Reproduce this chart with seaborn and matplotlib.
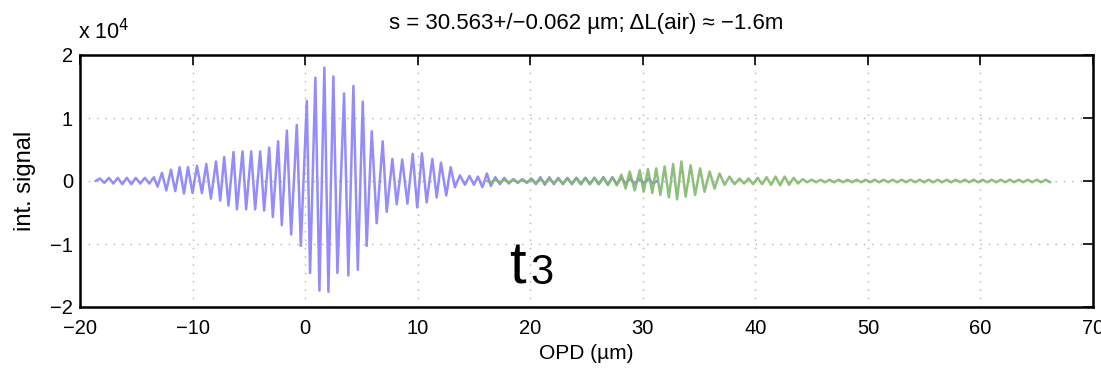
import numpy as np
import pandas as pd
import matplotlib
matplotlib.use("Agg")
import matplotlib.pyplot as plt
import seaborn as sns

# ---- data (signal in units of 1e4) ----
blue_opd = [
    -18.63, -18.23, -17.84, -17.44, -17.04, -16.64, -16.24, -15.84, -15.44, -15.04,
    -14.64, -14.24, -13.84, -13.44, -13.11, -12.72, -12.33, -11.92, -11.54, -11.15,
    -10.76, -10.41, -10.00, -9.61, -9.17, -8.78, -8.37, -7.92, -7.54, -7.19,
    -6.81, -6.36, -6.06, -5.56, -5.24, -4.79, -4.44, -3.99, -3.64, -3.19,
    -2.87, -2.40, -2.07, -1.62, -1.24, -0.74, -0.38, 0.15, 0.44, 0.91,
    1.27, 1.71, 2.07, 2.51, 2.87, 3.46, 3.84, 4.29, 4.68, 5.12,
    5.47, 5.92, 6.36, 6.89, 7.25, 7.75, 8.14, 8.63, 9.09, 9.56,
    9.96, 10.38, 10.80, 11.30, 11.69, 12.07, 12.54, 12.93, 13.31, 13.75,
    14.20, 14.60, 15.00, 15.35, 15.75, 16.15, 16.50, 16.90, 17.30, 17.70,
    18.10, 18.50, 18.90, 19.30, 19.70, 20.10, 20.50, 20.90, 21.30, 21.70,
    22.10, 22.50, 22.90, 23.30, 23.70, 24.10, 24.50, 24.90, 25.30, 25.70,
    26.10, 26.50, 26.90, 27.30, 27.70, 28.10, 28.50, 28.90, 29.30, 29.70,
    30.10, 30.50, 30.90, 31.30,
]
blue_sig = [
    0.00, 0.04, -0.03, 0.05, -0.04, 0.05, -0.05, 0.05, -0.05, 0.05,
    -0.04, 0.05, -0.04, 0.06, -0.09, 0.13, -0.15, 0.18, -0.16, 0.22,
    -0.20, 0.22, -0.19, 0.24, -0.19, 0.27, -0.28, 0.31, -0.31, 0.38,
    -0.39, 0.46, -0.45, 0.47, -0.45, 0.47, -0.45, 0.47, -0.47, 0.53,
    -0.57, 0.63, -0.70, 0.80, -0.85, 0.89, -1.03, 1.27, -1.46, 1.64,
    -1.74, 1.80, -1.76, 1.66, -1.46, 1.39, -1.50, 1.51, -1.41, 1.26,
    -1.03, 0.79, -0.67, 0.63, -0.49, 0.35, -0.37, 0.34, -0.36, 0.43,
    -0.42, 0.44, -0.34, 0.35, -0.26, 0.29, -0.23, 0.22, -0.10, 0.09,
    -0.06, 0.08, -0.06, 0.07, -0.10, 0.12, -0.08, 0.06, -0.05, 0.05,
    -0.04, 0.03, -0.03, 0.03, -0.03, 0.04, -0.05, 0.06, -0.06, 0.06,
    -0.05, 0.05, -0.05, 0.05, -0.05, 0.05, -0.05, 0.05, -0.05, 0.05,
    -0.05, 0.06, -0.06, 0.06, -0.05, 0.05, -0.04, 0.04, -0.04, 0.04,
    -0.04, 0.04, -0.04, 0.00,
]

green_opd = [
    16.15, 16.50, 16.90, 17.30, 17.70, 18.10, 18.50, 18.90, 19.30, 19.70,
    20.10, 20.50, 20.90, 21.30, 21.70, 22.10, 22.50, 22.90, 23.30, 23.70,
    24.10, 24.50, 24.90, 25.30, 25.70, 26.10, 26.50, 26.90, 27.30, 27.70,
    28.10, 28.48, 28.84, 29.28, 29.73, 30.08, 30.46, 30.85, 31.19, 31.56,
    31.94, 32.32, 32.70, 33.05, 33.43, 33.81, 34.25, 34.65, 35.09, 35.49,
    35.94, 36.38, 36.82, 37.27, 37.71, 38.15, 38.60, 39.00, 39.40, 39.80,
    40.20, 40.60, 41.00, 41.40, 41.80, 42.20, 42.60, 43.00, 43.40, 43.80,
    44.20, 44.60, 45.00, 45.40, 45.80, 46.20, 46.60, 47.00, 47.40, 47.80,
    48.20, 48.60, 49.00, 49.40, 49.80, 50.20, 50.60, 51.00, 51.40, 51.80,
    52.20, 52.60, 53.00, 53.40, 53.80, 54.20, 54.60, 55.00, 55.40, 55.80,
    56.20, 56.60, 57.00, 57.40, 57.80, 58.20, 58.60, 59.00, 59.40, 59.80,
    60.20, 60.60, 61.00, 61.40, 61.80, 62.20, 62.60, 63.00, 63.40, 63.80,
    64.20, 64.60, 65.00, 65.40, 65.80, 66.20,
]
green_sig = [
    0.00, -0.02, 0.02, -0.02, 0.02, -0.02, 0.02, -0.02, 0.02, -0.02,
    0.03, -0.03, 0.03, -0.03, 0.03, -0.03, 0.03, -0.04, 0.04, -0.04,
    0.05, -0.05, 0.05, -0.05, 0.05, -0.05, 0.06, -0.06, 0.06, -0.07,
    0.10, -0.12, 0.15, -0.15, 0.17, -0.17, 0.19, -0.19, 0.20, -0.22,
    0.23, -0.26, 0.27, -0.29, 0.31, -0.25, 0.25, -0.22, 0.20, -0.17,
    0.15, -0.12, 0.12, -0.06, 0.07, -0.05, 0.04, -0.04, 0.04, -0.05,
    0.05, -0.05, 0.06, -0.06, 0.07, -0.07, 0.07, -0.06, 0.05, -0.04,
    0.03, -0.02, 0.02, -0.02, 0.02, -0.02, 0.02, -0.02, 0.02, -0.02,
    0.02, -0.02, 0.02, -0.02, 0.02, -0.02, 0.02, -0.02, 0.02, -0.02,
    0.02, -0.02, 0.02, -0.02, 0.02, -0.02, 0.02, -0.02, 0.02, -0.02,
    0.02, -0.02, 0.02, -0.02, 0.02, -0.02, 0.02, -0.02, 0.02, -0.02,
    0.02, -0.02, 0.02, -0.02, 0.02, -0.02, 0.02, -0.02, 0.02, -0.02,
    0.02, -0.02, 0.02, -0.02, 0.02, -0.02,
]

x_ticks = [-20, -10, 0, 10, 20, 30, 40, 50, 60, 70]
y_ticks = [-2, -1, 0, 1, 2]
y_tick_labels = ["\u22122", "\u22121", "0", "1", "2"]
title_text = "s = 30.563+/\u22120.062 \u00b5m; \u0394L(air) \u2248 \u22121.6m"

# ---- style ----
sns.set_theme(style="white")
plt.rcParams["font.family"] = ["Liberation Sans", "DejaVu Sans"]
plt.rcParams["text.color"] = "black"
plt.rcParams["axes.labelcolor"] = "black"

fig = plt.figure(figsize=(11.01, 3.82), dpi=100)
ax = fig.add_axes([80 / 1101, 75 / 382, 1013 / 1101, 252 / 382])

blue_df = pd.DataFrame({"opd": blue_opd, "sig": blue_sig})
green_df = pd.DataFrame({"opd": green_opd, "sig": green_sig})

sns.lineplot(data=blue_df, x="opd", y="sig", ax=ax, color="#8880fa",
             linewidth=1.8, estimator=None, sort=False, alpha=0.9)
sns.lineplot(data=green_df, x="opd", y="sig", ax=ax, color="#80b86a",
             linewidth=1.8, estimator=None, sort=False, alpha=0.9)

ax.set_xlim(-20, 70)
ax.set_ylim(-2, 2)
ax.set_xticks(x_ticks)
ax.set_xticklabels([("\u2212" + str(-t)) if t < 0 else str(t) for t in x_ticks])
ax.set_yticks(y_ticks)
ax.set_yticklabels(y_tick_labels)

ax.grid(True, color="#b0b0b0", linestyle=(0, (1, 5)), linewidth=1.0)
for s in ax.spines.values():
    s.set_visible(True)
    s.set_color("black")
    s.set_linewidth(1.8)
ax.tick_params(direction="in", length=7, width=1.2, top=True, right=True,
               labelsize=14.5, colors="black")
ax.tick_params(axis="x", pad=9)
ax.tick_params(axis="y", pad=5)

ax.set_xlabel("OPD (\u00b5m)", fontsize=15, labelpad=4)
ax.set_ylabel("int. signal", fontsize=17, labelpad=10)
ax.set_title(title_text, fontsize=16, pad=19)

fig.text(78 / 1101, (382 - 39) / 382, "x 10$^{4}$", fontsize=15.5, ha="left", va="baseline")

fig.text(509 / 1101, (382 - 283) / 382, "t", fontsize=43, ha="left", va="baseline", color="black")
fig.text(530 / 1101, (382 - 284) / 382, "3", fontsize=30, ha="left", va="baseline", color="black")

fig.savefig("out.png", dpi=100)
